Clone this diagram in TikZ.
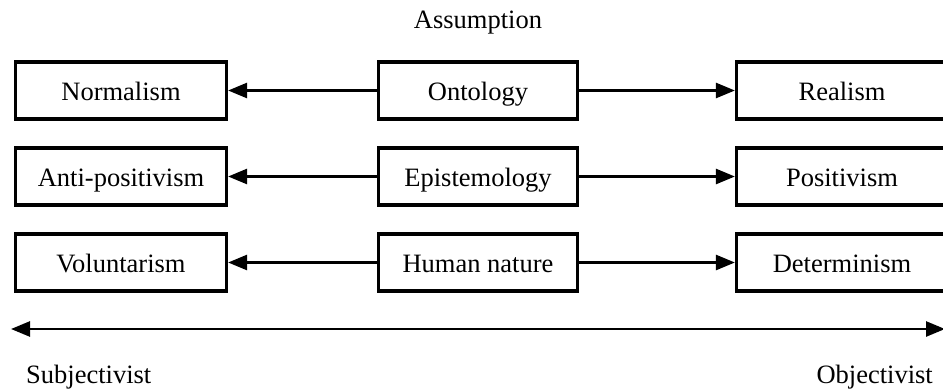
\documentclass[tikz,border=0pt]{standalone}
\usepackage{fontspec}
\setmainfont{Liberation Serif}
\usetikzlibrary{arrows.meta}
\begin{document}
\begin{tikzpicture}[x=1pt,y=-1pt,
  box/.style={draw=black,line width=3.2pt,minimum height=57pt,inner sep=0pt,text height=19pt,text depth=0pt,font=\fontsize{26.5}{30}\selectfont},
  sidebox/.style={box,minimum width=211pt},
  midbox/.style={box,minimum width=199pt},
  arr/.style={line width=2.6pt,-{Triangle[length=19pt,width=15pt]}},
  lbl/.style={font=\fontsize{26.5}{30}\selectfont,inner sep=0pt}]
\useasboundingbox (0,0) rectangle (943,391);
\node[lbl,anchor=base] (as) at (478,28) {Assumption};
\foreach \r/\y/\l/\m/\rr in {1/90.5/Normalism/Ontology/Realism,2/176.5/Anti-positivism/Epistemology/Positivism,3/262.5/Voluntarism/Human nature/Determinism}{
  \node[sidebox] (l\r) at (121,\y) {\l};
  \node[midbox] (m\r) at (478,\y) {\m};
  \node[sidebox] (r\r) at (842,\y) {\rr};
  \draw[arr] (m\r.west) -- (l\r.east);
  \draw[arr] (m\r.east) -- (r\r.west);
}
\coordinate (bl) at (11,329);
\coordinate (br) at (945,329);
\draw[line width=2.6pt,{Triangle[length=19pt,width=15pt]}-{Triangle[length=19pt,width=15pt]}] (bl) -- (br);
\node[lbl,anchor=base west] (subj) at (26,383) {Subjectivist};
\node[lbl,anchor=base east] (obj) at (933,383) {Objectivist};
\end{tikzpicture}
\end{document}
